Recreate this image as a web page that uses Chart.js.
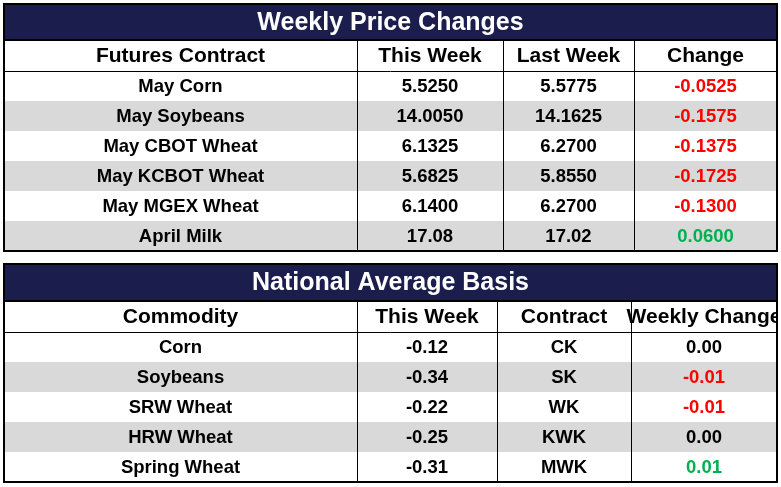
<!DOCTYPE html>
<html lang="en">
<head>
<meta charset="UTF-8">
<title>Weekly Price Changes</title>
<style>
  body { margin: 0; background: #fff; }
  .chart-container { width: 781px; height: 487px; position: relative; }
</style>
<script src="https://cdn.jsdelivr.net/npm/chart.js"></script>
</head>
<body>
<div class="chart-container"><canvas id="tableChart"></canvas></div>
<script>
// Weekly price changes
const futuresHeaders = ['Futures Contract', 'This Week', 'Last Week', 'Change'];
const futuresContracts = ['May Corn', 'May Soybeans', 'May CBOT Wheat', 'May KCBOT Wheat', 'May MGEX Wheat', 'April Milk'];
const futuresThisWeek = ['5.5250', '14.0050', '6.1325', '5.6825', '6.1400', '17.08'];
const futuresLastWeek = ['5.5775', '14.1625', '6.2700', '5.8550', '6.2700', '17.02'];
const futuresChange = ['-0.0525', '-0.1575', '-0.1375', '-0.1725', '-0.1300', '0.0600'];

// National average basis
const basisHeaders = ['Commodity', 'This Week', 'Contract', 'Weekly Change'];
const basisCommodities = ['Corn', 'Soybeans', 'SRW Wheat', 'HRW Wheat', 'Spring Wheat'];
const basisThisWeek = ['-0.12', '-0.34', '-0.22', '-0.25', '-0.31'];
const basisContract = ['CK', 'SK', 'WK', 'KWK', 'MWK'];
const basisChange = ['0.00', '-0.01', '-0.01', '0.00', '0.01'];

// layout (in scale units = page pixels)
const tables = [
  { title: 'Weekly Price Changes', top: 4, titleH: 36, headH: 31, rowH: 30,
    cols: [4, 357, 503, 634, 777], headers: futuresHeaders,
    columns: [futuresContracts, futuresThisWeek, futuresLastWeek, futuresChange] },
  { title: 'National Average Basis', top: 264, titleH: 37, headH: 31, rowH: 30,
    cols: [4, 357, 497, 631, 777], headers: basisHeaders,
    columns: [basisCommodities, basisThisWeek, basisContract, basisChange] }
];

const NAVY = '#1b1d4d', GRAY = '#d9d9d9', RED = '#ff0000', GREEN = '#00b050';
const FONT = '"Liberation Sans", Arial, sans-serif';

function changeColor(s) {
  const v = parseFloat(s);
  return v < 0 ? RED : v > 0 ? GREEN : '#000';
}

const tablePlugin = {
  id: 'tablePlugin',
  afterDraw(chart) {
    const ctx = chart.ctx;
    const xs = chart.scales.x, ys = chart.scales.y;
    const X = v => xs.getPixelForValue(v);
    const Y = v => ys.getPixelForValue(v);
    ctx.save();
    ctx.textAlign = 'center';
    ctx.textBaseline = 'middle';
    tables.forEach(t => {
      const n = t.columns[0].length;
      const left = t.cols[0], right = t.cols[t.cols.length - 1];
      const headTop = t.top + t.titleH;
      const bodyTop = headTop + t.headH;
      const bottom = bodyTop + n * t.rowH;
      // title bar
      ctx.fillStyle = NAVY;
      ctx.fillRect(X(left), Y(t.top), X(right) - X(left), Y(headTop) - Y(t.top));
      ctx.fillStyle = '#fff';
      ctx.font = 'bold 25px ' + FONT;
      ctx.fillText(t.title, X((left + right) / 2), Y(t.top + t.titleH / 2 + 1));
      // stripes
      for (let i = 0; i < n; i++) {
        if (i % 2 === 1) {
          ctx.fillStyle = GRAY;
          ctx.fillRect(X(left), Y(bodyTop + i * t.rowH), X(right) - X(left), t.rowH);
        }
      }
      // grid
      ctx.strokeStyle = '#000';
      ctx.lineWidth = 1;
      ctx.beginPath();
      t.cols.slice(1, -1).forEach(c => {
        ctx.moveTo(X(c) + 0.5, Y(headTop)); ctx.lineTo(X(c) + 0.5, Y(bottom));
      });
      ctx.moveTo(X(left), Y(bodyTop) + 0.5); ctx.lineTo(X(right), Y(bodyTop) + 0.5);
      ctx.stroke();
      ctx.lineWidth = 2;
      ctx.strokeRect(X(left), Y(t.top), X(right) - X(left), Y(bottom) - Y(t.top));
      ctx.beginPath();
      ctx.moveTo(X(left), Y(headTop)); ctx.lineTo(X(right), Y(headTop));
      ctx.stroke();
      // clip text to table
      ctx.save();
      ctx.beginPath();
      ctx.rect(X(left), Y(headTop), X(right) - X(left) - 1, Y(bottom) - Y(headTop));
      ctx.clip();
      ctx.font = 'bold 21px ' + FONT;
      ctx.fillStyle = '#000';
      t.headers.forEach((h, j) => {
        ctx.fillText(h, X((t.cols[j] + t.cols[j + 1]) / 2), Y(headTop + t.headH / 2 + 1));
      });
      ctx.font = 'bold 18.5px ' + FONT;
      t.columns.forEach((col, j) => {
        col.forEach((s, i) => {
          ctx.fillStyle = j === t.columns.length - 1 ? changeColor(s) : '#000';
          ctx.fillText(s, X((t.cols[j] + t.cols[j + 1]) / 2), Y(bodyTop + i * t.rowH + t.rowH / 2 + 1));
        });
      });
      ctx.restore();
    });
    ctx.restore();
  }
};

new Chart(document.getElementById('tableChart'), {
  type: 'scatter',
  data: { datasets: [{ data: [] }] },
  options: {
    responsive: true,
    maintainAspectRatio: false,
    animation: false,
    layout: { padding: 0 },
    plugins: { legend: { display: false }, tooltip: { enabled: false } },
    scales: {
      x: { type: 'linear', min: 0, max: 781, display: false },
      y: { type: 'linear', min: 0, max: 487, reverse: true, display: false }
    }
  },
  plugins: [tablePlugin]
});
</script>
</body>
</html>
